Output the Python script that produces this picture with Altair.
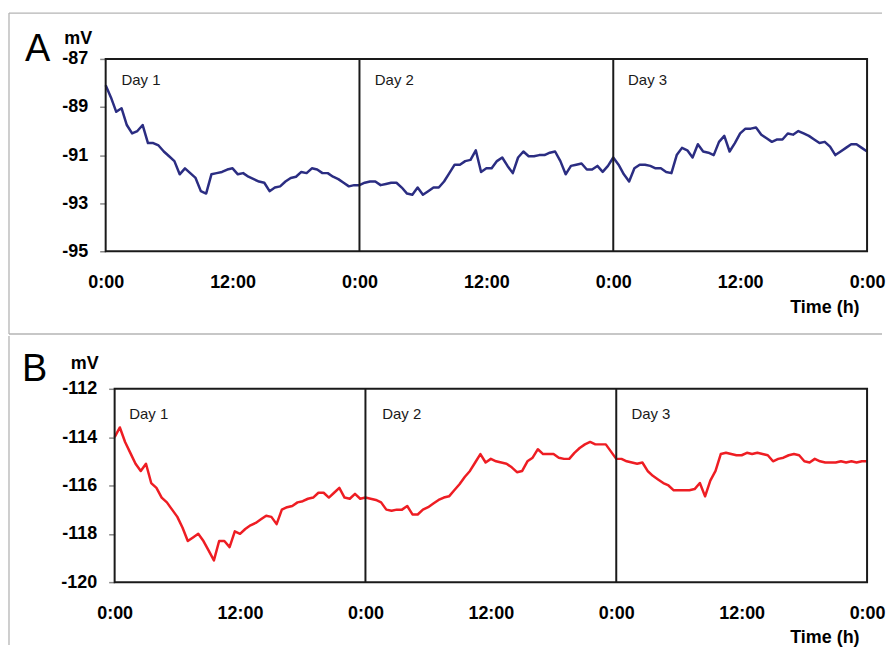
import altair as alt
import pandas as pd

# ---- data ----
hours = [i * 0.5 for i in range(145)]  # 0:00 day 1 .. 0:00 after day 3, every 30 min

mv_a = [
    -88.1, -88.6, -89.2, -89.05, -89.75, -90.1, -90.0, -89.75, -90.5, -90.5,
    -90.6, -90.85, -91.05, -91.25, -91.8, -91.55, -91.75, -91.95, -92.5, -92.6,
    -91.8, -91.75, -91.7, -91.6, -91.55, -91.8, -91.75, -91.9, -92.0, -92.1,
    -92.15, -92.5, -92.35, -92.3, -92.1, -91.95, -91.9, -91.7, -91.75, -91.55,
    -91.6, -91.75, -91.75, -91.9, -92.0, -92.15, -92.3, -92.25,
    -92.25, -92.15, -92.1, -92.1, -92.25, -92.2, -92.15, -92.15, -92.35, -92.6,
    -92.65, -92.35, -92.65, -92.5, -92.35, -92.35, -92.1, -91.75, -91.4, -91.4,
    -91.25, -91.2, -90.8, -91.7, -91.55, -91.55, -91.25, -91.1, -91.45, -91.75,
    -91.1, -90.85, -91.05, -91.05, -91.0, -91.0, -90.9, -90.85, -91.25, -91.8,
    -91.45, -91.4, -91.35, -91.6, -91.6, -91.45, -91.7, -91.45,
    -91.1, -91.4, -91.8, -92.1, -91.55, -91.4, -91.4, -91.45, -91.55, -91.55,
    -91.7, -91.75, -91.0, -90.7, -90.8, -91.1, -90.55, -90.85, -90.9, -91.0,
    -90.45, -90.2, -90.85, -90.5, -90.1, -89.9, -89.9, -89.85, -90.15, -90.3,
    -90.45, -90.35, -90.35, -90.1, -90.15, -90.0, -90.1, -90.2, -90.35, -90.5,
    -90.45, -90.65, -91.0, -90.85, -90.7, -90.55, -90.55, -90.7, -90.85,
]

mv_b = [
    -114.0, -113.6, -114.2, -114.65, -115.1, -115.4, -115.1, -115.9, -116.1, -116.5,
    -116.7, -117.0, -117.3, -117.75, -118.3, -118.15, -118.0, -118.3, -118.7, -119.1,
    -118.3, -118.3, -118.55, -117.9, -118.0, -117.8, -117.65, -117.55, -117.4, -117.25,
    -117.3, -117.6, -117.0, -116.9, -116.85, -116.7, -116.65, -116.55, -116.5, -116.3,
    -116.3, -116.5, -116.3, -116.1, -116.5, -116.55, -116.35, -116.55,
    -116.5, -116.55, -116.6, -116.7, -117.0, -117.05, -117.0, -117.0, -116.85, -117.2,
    -117.2, -117.0, -116.9, -116.75, -116.6, -116.5, -116.45, -116.2, -115.95, -115.65,
    -115.4, -115.05, -114.7, -115.05, -114.9, -115.0, -115.05, -115.1, -115.25, -115.45,
    -115.4, -115.0, -114.85, -114.5, -114.7, -114.7, -114.7, -114.85, -114.9, -114.9,
    -114.65, -114.45, -114.3, -114.2, -114.3, -114.3, -114.3, -114.6,
    -114.9, -114.9, -115.0, -115.05, -115.1, -115.05, -115.4, -115.6, -115.75, -115.9,
    -116.0, -116.2, -116.2, -116.2, -116.2, -116.15, -115.9, -116.45, -115.8, -115.4,
    -114.7, -114.65, -114.7, -114.75, -114.75, -114.65, -114.7, -114.65, -114.7, -114.75,
    -115.0, -114.9, -114.85, -114.75, -114.7, -114.75, -115.0, -115.05, -114.9, -115.0,
    -115.05, -115.05, -115.05, -115.0, -115.05, -115.0, -115.05, -115.0, -115.0,
]

day_labels = ["Day 1", "Day 2", "Day 3"]
day_x_a = [1.5, 25.45, 49.4]
day_x_b = [1.4, 25.6, 49.45]
day_y_a = -87.87
day_y_b = -113.05
day_breaks = [24, 48]
x_ticks = [0, 12, 24, 36, 48, 60, 72]
y_ticks_a = [-95, -93, -91, -89, -87]
y_ticks_b = [-120, -118, -116, -114, -112]

FONT = "Liberation Sans"
BORDER = "#b4b4b4"


def panel(letter, letter_x, letter_y, values, color, ydom, yticks, day_x, day_y,
          xrange_, yaxis_offset, mv_x, mv_y, height, border_segments):
    df = pd.DataFrame({"t": hours, "v": values})
    xs = alt.Scale(domain=[0, 72], range=xrange_, nice=False, zero=False)
    ys = alt.Scale(domain=ydom, nice=False, zero=False)

    xaxis = alt.Axis(
        values=x_ticks,
        labelExpr="datum.value % 24 == 0 ? '0:00' : '12:00'",
        ticks=False,
        domain=False,
        grid=False,
        labelPadding=22,
        labelFont=FONT,
        labelFontSize=18,
        labelFontWeight="bold",
        labelColor="black",
        labelFlush=False,
        title="Time (h)",
        titleFont=FONT,
        titleFontSize=18,
        titleFontWeight="bold",
        titleColor="black",
        titleAlign="right",
        titleBaseline="alphabetic",
        titleX=756,
        titleY=61,
    )
    yaxis = alt.Axis(
        values=yticks,
        labelExpr="'' + datum.value",
        ticks=True,
        tickSize=6,
        tickColor="#888888",
        tickWidth=1.5,
        domain=False,
        grid=False,
        labelPadding=12,
        labelFont=FONT,
        labelFontSize=18,
        labelFontWeight="bold",
        labelColor="black",
        title="mV",
        titleFont=FONT,
        titleFontSize=18,
        titleFontWeight="bold",
        titleColor="black",
        titleAngle=0,
        titleAlign="center",
        titleBaseline="alphabetic",
        titleX=mv_x,
        titleY=mv_y,
        offset=yaxis_offset,
    )

    line = alt.Chart(df).mark_line(color=color, strokeWidth=2.5, strokeJoin="round").encode(
        x=alt.X("t:Q", scale=xs, axis=xaxis),
        y=alt.Y("v:Q", scale=ys, axis=yaxis),
    )
    frame = alt.Chart(alt.Data(values=[{}])).mark_rect(
        filled=False, stroke="#1a1a1a", strokeWidth=2
    ).encode(
        x=alt.datum(0), x2=alt.datum(72), y=alt.datum(ydom[0]), y2=alt.datum(ydom[1])
    )
    rules = alt.Chart(pd.DataFrame({"t": day_breaks})).mark_rule(
        color="#1a1a1a", strokeWidth=2
    ).encode(x="t:Q", y=alt.datum(ydom[0]), y2=alt.datum(ydom[1]))
    texts = alt.Chart(pd.DataFrame({"t": day_x, "v": [day_y] * 3, "label": day_labels})).mark_text(
        align="left", baseline="middle", font=FONT, fontSize=15, color="#1a1a1a"
    ).encode(x="t:Q", y="v:Q", text="label:N")
    letter_mark = alt.Chart(alt.Data(values=[{}])).mark_text(
        text=letter, align="left", baseline="alphabetic", font=FONT, fontSize=38, color="black"
    ).encode(x=alt.value(letter_x), y=alt.value(letter_y))

    # light grey figure border (decoration around the panels)
    borders = [
        alt.Chart(alt.Data(values=[{}])).mark_rule(color=BORDER, strokeWidth=1.3).encode(
            x=alt.value(x1), x2=alt.value(x2), y=alt.value(y1), y2=alt.value(y2)
        )
        for (x1, x2, y1, y2) in border_segments
    ]

    return alt.layer(*borders, line, rules, frame, texts, letter_mark).properties(
        width=764,
        height=height,
        view=alt.ViewBackground(strokeOpacity=0),
    )


pa = panel(
    "A", -81, 2, mv_a, "#2b2d82", [-95, -87], y_ticks_a, day_x_a, day_y_a,
    [0, 764], 0, -28, -15, 193,
    [(-97, 779, -46, -46), (-97, -97, -46, 276), (-97, 779, 276, 276)],
)
pb = panel(
    "B", -84, -8, mv_b, "#ee1d23", [-120, -112], y_ticks_b, day_x_b, day_y_b,
    [9, 764], -9, -30.5, -20, 194,
    [(-97, -97, -53, 257)],
)

chart = alt.vconcat(pa, pb, spacing=0).properties(
    padding={"left": 0, "top": 3, "right": 0, "bottom": 0}
).configure(background="white")

chart.save("out.html", embed_options={"renderer": "svg", "actions": False})
